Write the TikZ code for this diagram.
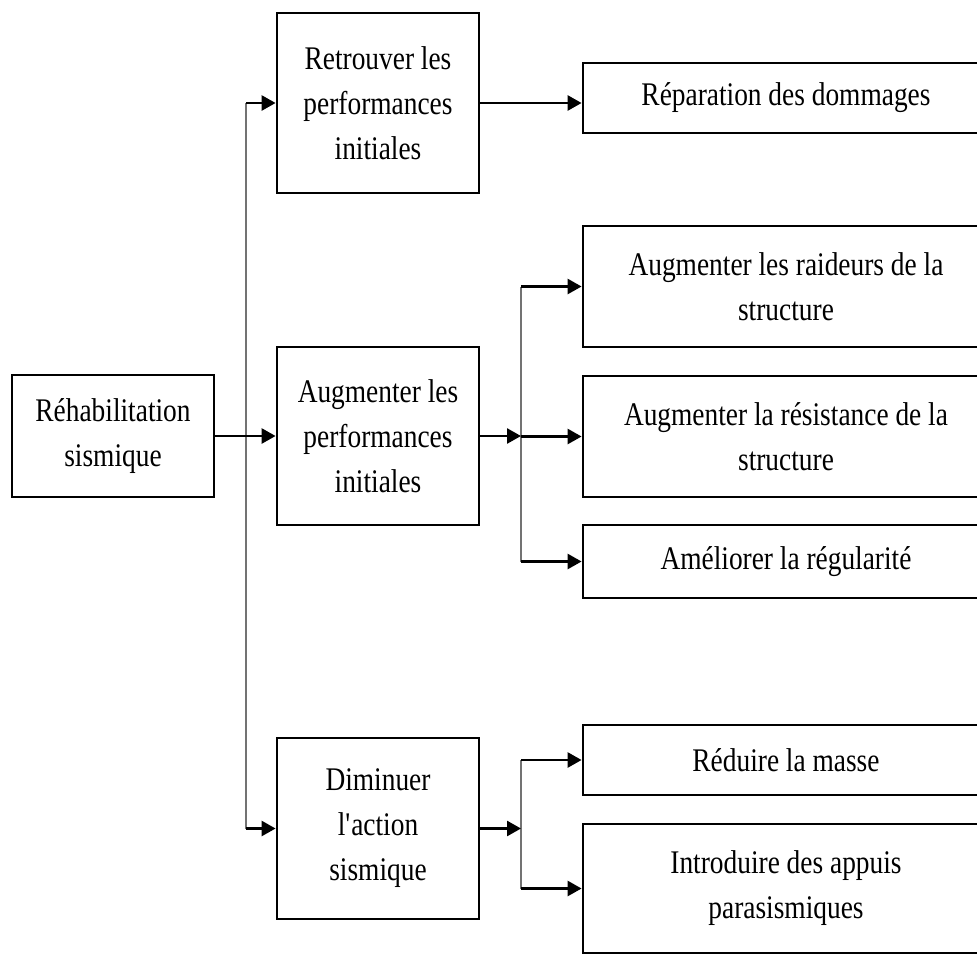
\documentclass[tikz,border=0pt]{standalone}
\usepackage{fontspec}
\setmainfont{Liberation Serif}[FakeStretch=0.83]
\usetikzlibrary{arrows.meta}
\begin{document}
\begin{tikzpicture}[x=1pt,y=-1pt,
  box/.style={draw=black, line width=2.8pt, inner sep=0pt, align=center,
    font=\fontsize{33}{45}\selectfont},
  midbox/.style={box, minimum width=202pt},
  rightbox/.style={box, minimum width=406pt},
  arr/.style={line width=2.6pt, draw=black, -{Triangle[length=14pt,width=15pt]}},
  trunk/.style={line width=2.2pt, draw=black!55}]
\useasboundingbox (0,0) rectangle (977,956);
\clip (0,0) rectangle (977,956);
\fill[white] (0,0) rectangle (977,956);

% left and middle column
\node[box, minimum width=202pt, minimum height=122pt] (rehab) at (113,436) {Réhabilitation\\sismique};
\node[midbox, minimum height=180pt] (ret) at (378,103) {Retrouver les\\performances\\initiales};
\node[midbox, minimum height=178pt] (aug) at (378,436) {Augmenter les\\performances\\initiales};
\node[midbox, minimum height=181pt] (dim) at (378,828.5) {Diminuer\\l\textquotesingle action\\sismique};

% right column
\node[rightbox, minimum height=70pt] (rep) at (786,98) {Réparation des dommages};
\node[rightbox, minimum height=121pt] (rai) at (786,286.5) {Augmenter les raideurs de la\\structure};
\node[rightbox, minimum height=121pt] (res) at (786,436.5) {Augmenter la résistance de la\\structure};
\node[rightbox, minimum height=73pt] (ame) at (786,561.5) {Améliorer la régularité};
\node[rightbox, minimum height=70pt] (red) at (786,760) {Réduire la masse};
\node[rightbox, minimum height=129pt] (intro) at (786,888.5) {Introduire des appuis\\parasismiques};

% junction columns
\coordinate (t) at (246,0);
\coordinate (j) at (521,0);

% trunks
\draw[trunk] (ret.west -| t) -- (dim.west -| t);
\draw[trunk] (rai.west -| j) -- (ame.west -| j);
\draw[trunk] (red.west -| j) -- (intro.west -| j);

% arrows
\draw[arr] (ret.west -| t) -- (ret.west);
\draw[arr] (rehab.east) -- (aug.west);
\draw[arr] (dim.west -| t) -- (dim.west);
\draw[arr] (ret.east) -- (ret.east -| rep.west);
\draw[arr] (aug.east) -- (aug.east -| j);
\draw[arr] (rai.west -| j) -- (rai.west);
\draw[arr] (res.west -| j) -- (res.west);
\draw[arr] (ame.west -| j) -- (ame.west);
\draw[arr] (dim.east) -- (dim.east -| j);
\draw[arr] (red.west -| j) -- (red.west);
\draw[arr] (intro.west -| j) -- (intro.west);
\end{tikzpicture}
\end{document}
